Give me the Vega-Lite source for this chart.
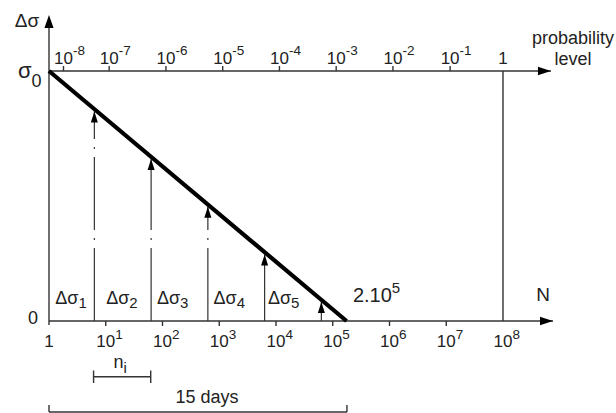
{
  "$schema": "https://vega.github.io/schema/vega-lite/v6.json",
  "width": 454,
  "height": 250,
  "autosize": {"type": "none"},
  "padding": {"left": 49, "top": 71, "right": 113, "bottom": 92},
  "background": "white",
  "config": {"view": {"stroke": null}},
  "datasets": {
    "main": [{"N": 1, "v": 1}, {"N": 175000, "v": 0}],
    "axes": [
      {"N": 1, "N2": 760000000, "v": 0, "v2": 0},
      {"N": 1, "N2": 700000000, "v": 1, "v2": 1},
      {"N": 1, "N2": 1, "v": -0.016, "v2": 1.2},
      {"N": 100000000, "N2": 100000000, "v": 0, "v2": 1},
      {"N": 6.1, "N2": 62, "v": -0.223, "v2": -0.223},
      {"N": 6.1, "N2": 6.1, "v": -0.198, "v2": -0.248},
      {"N": 62, "N2": 62, "v": -0.198, "v2": -0.248},
      {"N": 1, "N2": 178000, "v": -0.364, "v2": -0.364},
      {"N": 1, "N2": 1, "v": -0.336, "v2": -0.364},
      {"N": 178000, "N2": 178000, "v": -0.336, "v2": -0.364},
      {"N": 10, "N2": 10, "v": 0, "v2": -0.02},
      {"N": 100, "N2": 100, "v": 0, "v2": -0.02},
      {"N": 1000, "N2": 1000, "v": 0, "v2": -0.02},
      {"N": 10000, "N2": 10000, "v": 0, "v2": -0.02},
      {"N": 100000, "N2": 100000, "v": 0, "v2": -0.02},
      {"N": 1000000, "N2": 1000000, "v": 0, "v2": -0.02},
      {"N": 10000000, "N2": 10000000, "v": 0, "v2": -0.02},
      {"N": 1.8, "N2": 1.8, "v": 1, "v2": 1.02},
      {"N": 11.5, "N2": 11.5, "v": 1, "v2": 1.02},
      {"N": 115, "N2": 115, "v": 1, "v2": 1.02},
      {"N": 1150, "N2": 1150, "v": 1, "v2": 1.02},
      {"N": 11500, "N2": 11500, "v": 1, "v2": 1.02},
      {"N": 115000, "N2": 115000, "v": 1, "v2": 1.02},
      {"N": 1150000, "N2": 1150000, "v": 1, "v2": 1.02},
      {"N": 11700000, "N2": 11700000, "v": 1, "v2": 1.02}
    ],
    "arrows": [
      {"N": 6.3, "v": 0, "v2": 0.838},
      {"N": 63, "v": 0, "v2": 0.648},
      {"N": 630, "v": 0, "v2": 0.457},
      {"N": 6300, "v": 0, "v2": 0.266},
      {"N": 63000, "v": 0, "v2": 0.076}
    ],
    "heads": [
      {"N": 760000000, "v": 0, "d": "r"},
      {"N": 700000000, "v": 1, "d": "r"},
      {"N": 1, "v": 1.224, "d": "u"}
    ],
    "btm": [
      {"N": 1, "v": -0.104, "t": "1", "e": ""},
      {"N": 10, "v": -0.104, "t": "10", "e": "1"},
      {"N": 100, "v": -0.104, "t": "10", "e": "2"},
      {"N": 1000, "v": -0.104, "t": "10", "e": "3"},
      {"N": 10000, "v": -0.104, "t": "10", "e": "4"},
      {"N": 100000, "v": -0.104, "t": "10", "e": "5"},
      {"N": 1000000, "v": -0.104, "t": "10", "e": "6"},
      {"N": 10000000, "v": -0.104, "t": "10", "e": "7"},
      {"N": 100000000, "v": -0.104, "t": "10", "e": "8"}
    ],
    "top": [
      {"N": 1.8, "v": 1.028, "t": "10", "e": "-8"},
      {"N": 11.5, "v": 1.028, "t": "10", "e": "-7"},
      {"N": 115, "v": 1.028, "t": "10", "e": "-6"},
      {"N": 1150, "v": 1.028, "t": "10", "e": "-5"},
      {"N": 11500, "v": 1.028, "t": "10", "e": "-4"},
      {"N": 115000, "v": 1.028, "t": "10", "e": "-3"},
      {"N": 1150000, "v": 1.028, "t": "10", "e": "-2"},
      {"N": 11700000, "v": 1.028, "t": "10", "e": "-1"},
      {"N": 100000000, "v": 1.028, "t": "1", "e": ""}
    ],
    "dlab": [
      {"N": 3.3, "v": 0.068, "s": "1"},
      {"N": 26, "v": 0.068, "s": "2"},
      {"N": 204, "v": 0.068, "s": "3"},
      {"N": 2030, "v": 0.068, "s": "4"},
      {"N": 18400, "v": 0.068, "s": "5"}
    ]
  },
  "encoding": {
    "x": {"field": "N", "type": "quantitative", "scale": {"type": "log", "domain": [1, 100000000], "nice": false}, "axis": null},
    "y": {"field": "v", "type": "quantitative", "scale": {"domain": [0, 1], "nice": false, "zero": false}, "axis": null}
  },
  "layer": [
    {
      "data": {"name": "axes"},
      "mark": {"type": "rule", "stroke": "#333333", "strokeWidth": 1.4},
      "encoding": {"x2": {"field": "N2"}, "y2": {"field": "v2"}}
    },
    {
      "data": {"name": "arrows"},
      "mark": {"type": "rule", "stroke": "#333333", "strokeWidth": 1.2, "strokeDash": [73, 8, 2, 8]},
      "encoding": {"y2": {"field": "v2"}}
    },
    {
      "data": {"name": "arrows"},
      "mark": {"type": "point", "shape": "M0,0 L-0.32,1 L0.32,1 Z", "size": 484, "filled": true, "fill": "black", "strokeWidth": 0, "opacity": 1},
      "encoding": {"y": {"field": "v2", "type": "quantitative"}}
    },
    {
      "data": {"name": "main"},
      "mark": {"type": "line", "stroke": "black", "strokeWidth": 4.2}
    },
    {
      "data": {"name": "heads"},
      "mark": {"type": "point", "filled": true, "fill": "black", "size": 169, "strokeWidth": 0, "opacity": 1},
      "encoding": {
        "shape": {"field": "d", "type": "nominal", "scale": {"domain": ["r", "u"], "range": ["M0,0 L-2,-0.65 L-2,0.65 Z", "M0,0 L-0.7,2 L0.7,2 Z"]}, "legend": null}
      }
    },
    {
      "data": {"name": "btm"},
      "mark": {"type": "text", "font": "Liberation Sans", "fontSize": 17, "align": "center", "baseline": "alphabetic", "fill": "#222222"},
      "encoding": {"text": {"field": "t"}}
    },
    {
      "data": {"name": "btm"},
      "mark": {"type": "text", "font": "Liberation Sans", "fontSize": 13.5, "align": "left", "baseline": "alphabetic", "dx": 9.5, "dy": -8, "fill": "#222222"},
      "encoding": {"text": {"field": "e"}}
    },
    {
      "data": {"name": "top"},
      "mark": {"type": "text", "font": "Liberation Sans", "fontSize": 17, "align": "center", "baseline": "alphabetic", "fill": "#222222"},
      "encoding": {"text": {"field": "t"}}
    },
    {
      "data": {"name": "top"},
      "mark": {"type": "text", "font": "Liberation Sans", "fontSize": 13.5, "align": "left", "baseline": "alphabetic", "dx": 9.5, "dy": -9, "fill": "#222222"},
      "encoding": {"text": {"field": "e"}}
    },
    {
      "data": {"name": "dlab"},
      "mark": {"type": "text", "font": "Liberation Sans", "fontSize": 18, "align": "right", "baseline": "alphabetic", "fill": "#222222"},
      "encoding": {"text": {"value": "Δσ"}}
    },
    {
      "data": {"name": "dlab"},
      "mark": {"type": "text", "font": "Liberation Sans", "fontSize": 15, "align": "left", "baseline": "alphabetic", "dy": 4, "fill": "#222222"},
      "encoding": {"text": {"field": "s"}}
    },
    {
      "data": {"values": [
        {"N": 0.41, "v": 1.176, "t": "Δσ"}
      ]},
      "mark": {"type": "text", "font": "Liberation Sans", "fontSize": 19, "align": "center", "baseline": "alphabetic", "fill": "#222222"},
      "encoding": {"text": {"field": "t"}}
    },
    {
      "data": {"values": [
        {"N": 0.522, "v": -0.012, "t": "0"},
        {"N": 1710000000, "v": 1.108, "t": "probability"},
        {"N": 1710000000, "v": 1.024, "t": "level"},
        {"N": 608, "v": -0.328, "t": "15 days"}
      ]},
      "mark": {"type": "text", "font": "Liberation Sans", "fontSize": 18, "align": "center", "baseline": "alphabetic", "fill": "#222222"},
      "encoding": {"text": {"field": "t"}}
    },
    {
      "data": {"values": [
        {"N": 507000000, "v": 0.08, "t": "N"}
      ]},
      "mark": {"type": "text", "font": "Liberation Sans", "fontSize": 19, "align": "center", "baseline": "alphabetic", "fill": "#222222"},
      "encoding": {"text": {"field": "t"}}
    },
    {
      "data": {"values": [
        {"N": 20.5, "v": -0.188, "t": "n"}
      ]},
      "mark": {"type": "text", "font": "Liberation Sans", "fontSize": 18, "align": "right", "baseline": "alphabetic", "fill": "#222222"},
      "encoding": {"text": {"field": "t"}}
    },
    {
      "data": {"values": [
        {"N": 20.5, "v": -0.208, "t": "i"},
        {"N": 1100000, "v": 0.112, "t": "5"}
      ]},
      "mark": {"type": "text", "font": "Liberation Sans", "fontSize": 15, "align": "left", "baseline": "alphabetic", "fill": "#222222"},
      "encoding": {"text": {"field": "t"}}
    },
    {
      "data": {"values": [
        {"N": 1100000, "v": 0.076, "t": "2.10"}
      ]},
      "mark": {"type": "text", "font": "Liberation Sans", "fontSize": 20, "align": "right", "baseline": "alphabetic", "fill": "#222222"},
      "encoding": {"text": {"field": "t"}}
    },
    {
      "data": {"values": [
        {"N": 0.492, "v": 0.972, "t": "σ"}
      ]},
      "mark": {"type": "text", "font": "Liberation Sans", "fontSize": 22, "align": "right", "baseline": "alphabetic", "fill": "#222222"},
      "encoding": {"text": {"field": "t"}}
    },
    {
      "data": {"values": [
        {"N": 0.492, "v": 0.936, "t": "0"}
      ]},
      "mark": {"type": "text", "font": "Liberation Sans", "fontSize": 18, "align": "left", "baseline": "alphabetic", "fill": "#222222"},
      "encoding": {"text": {"field": "t"}}
    }
  ]
}
